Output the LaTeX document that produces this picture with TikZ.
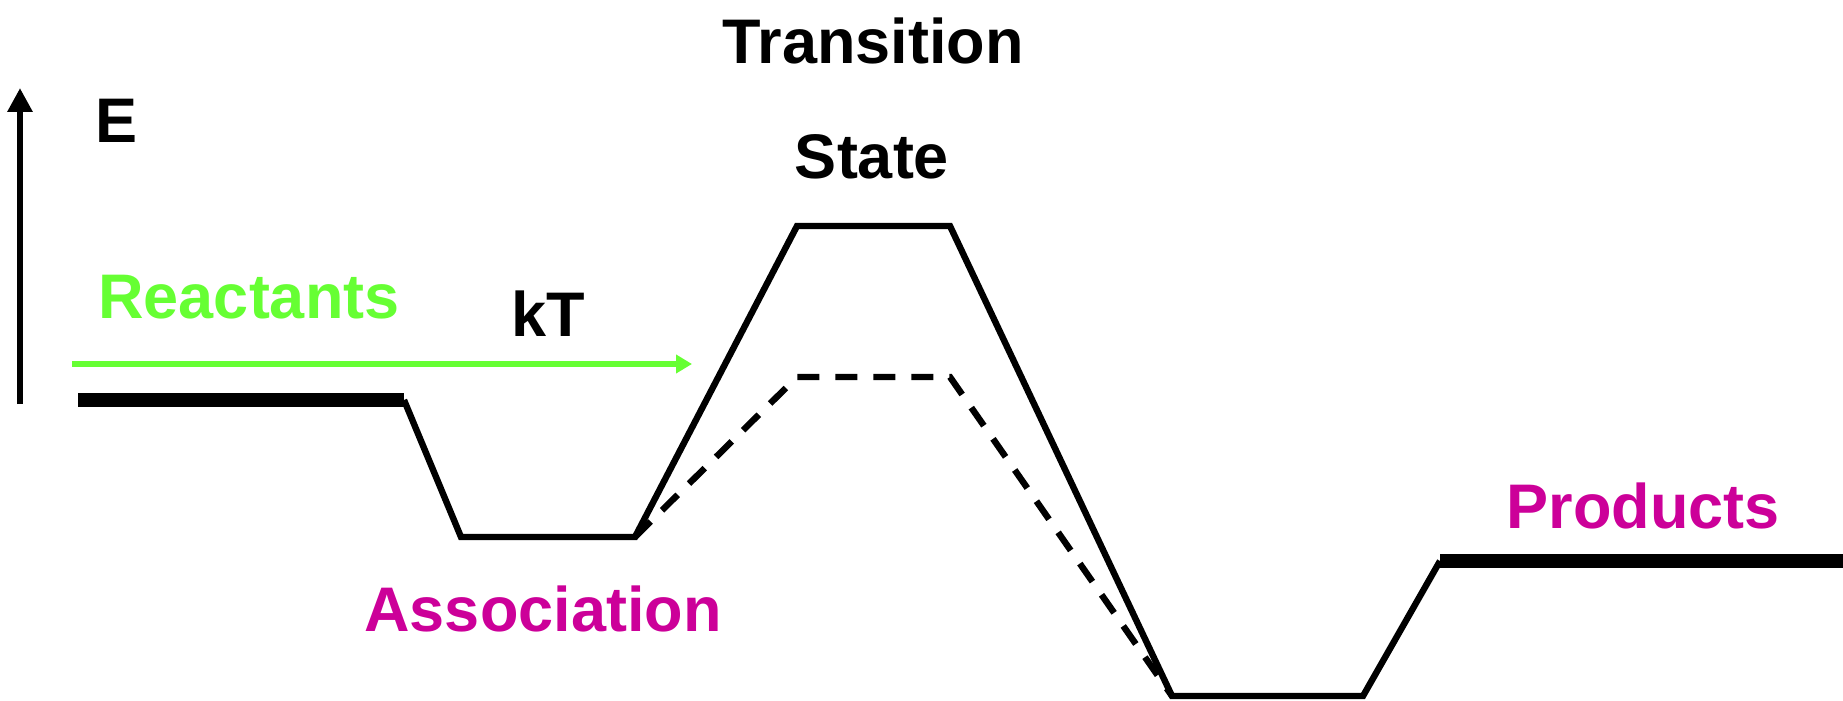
\documentclass[tikz,border=0pt]{standalone}
\usepackage{fontspec}
\setmainfont{Liberation Sans}
\usetikzlibrary{arrows.meta}
\definecolor{reactgreen}{HTML}{66FF33}
\definecolor{prodmag}{HTML}{CC0099}
\tikzset{
  lbl/.style={anchor=base, inner sep=0pt, font=\fontsize{31.5}{36}\selectfont\bfseries},
  thinpath/.style={line width=3.2pt, line join=miter},
  level/.style={line width=7pt},
  dashpath/.style={line width=3.2pt, dash pattern=on 11pt off 8pt},
  axisarrow/.style={line width=3pt, -{Triangle[length=12pt,width=12pt]}},
  ktarrow/.style={line width=3.2pt, reactgreen, -{Triangle[length=8pt,width=9pt]}}
}
\begin{document}
\begin{tikzpicture}[x=0.5pt,y=-0.5pt]
\useasboundingbox (0,0) rectangle (1843,701);
% coordinates
\coordinate (axb) at (20,404);
\coordinate (axt) at (20,88);
\coordinate (r0) at (78,400);
\coordinate (r1) at (404,400);
\coordinate (a0) at (461,537);
\coordinate (a1) at (635,537);
\coordinate (t0) at (797,226);
\coordinate (t1) at (950,226);
\coordinate (d0) at (797,377);
\coordinate (d1) at (950,377);
\coordinate (b0) at (1172,696);
\coordinate (b1) at (1363,696);
\coordinate (p0) at (1440,561);
\coordinate (p1) at (1843,561);
\coordinate (k0) at (72,364);
\coordinate (k1) at (692,364);
% labels
\node[lbl] (E) at (117,143) {E};
\node[lbl, text=reactgreen] (react) at (249,318) {Reactants};
\node[lbl] (kT) at (548,336) {kT};
\node[lbl] (trans) at (873,64) {Transition};
\node[lbl] (state) at (872,178) {State};
\node[lbl, text=prodmag] (prod) at (1643,528) {Products};
\node[lbl, text=prodmag] (assoc) at (543,631) {Association};
% axis
\draw[axisarrow] (axb) -- (axt);
% kT arrow
\draw[ktarrow] (k0) -- (k1);
% levels
\draw[level] (r0) -- (r1);
\draw[level] (p0) -- (p1);
% energy profile
\draw[thinpath] (r1) -- (a0) -- (a1) -- (t0) -- (t1) -- (b0) -- (b1) -- (p0);
\draw[dashpath] (a1) -- (d0) -- (d1) -- (b0);
\end{tikzpicture}
\end{document}
